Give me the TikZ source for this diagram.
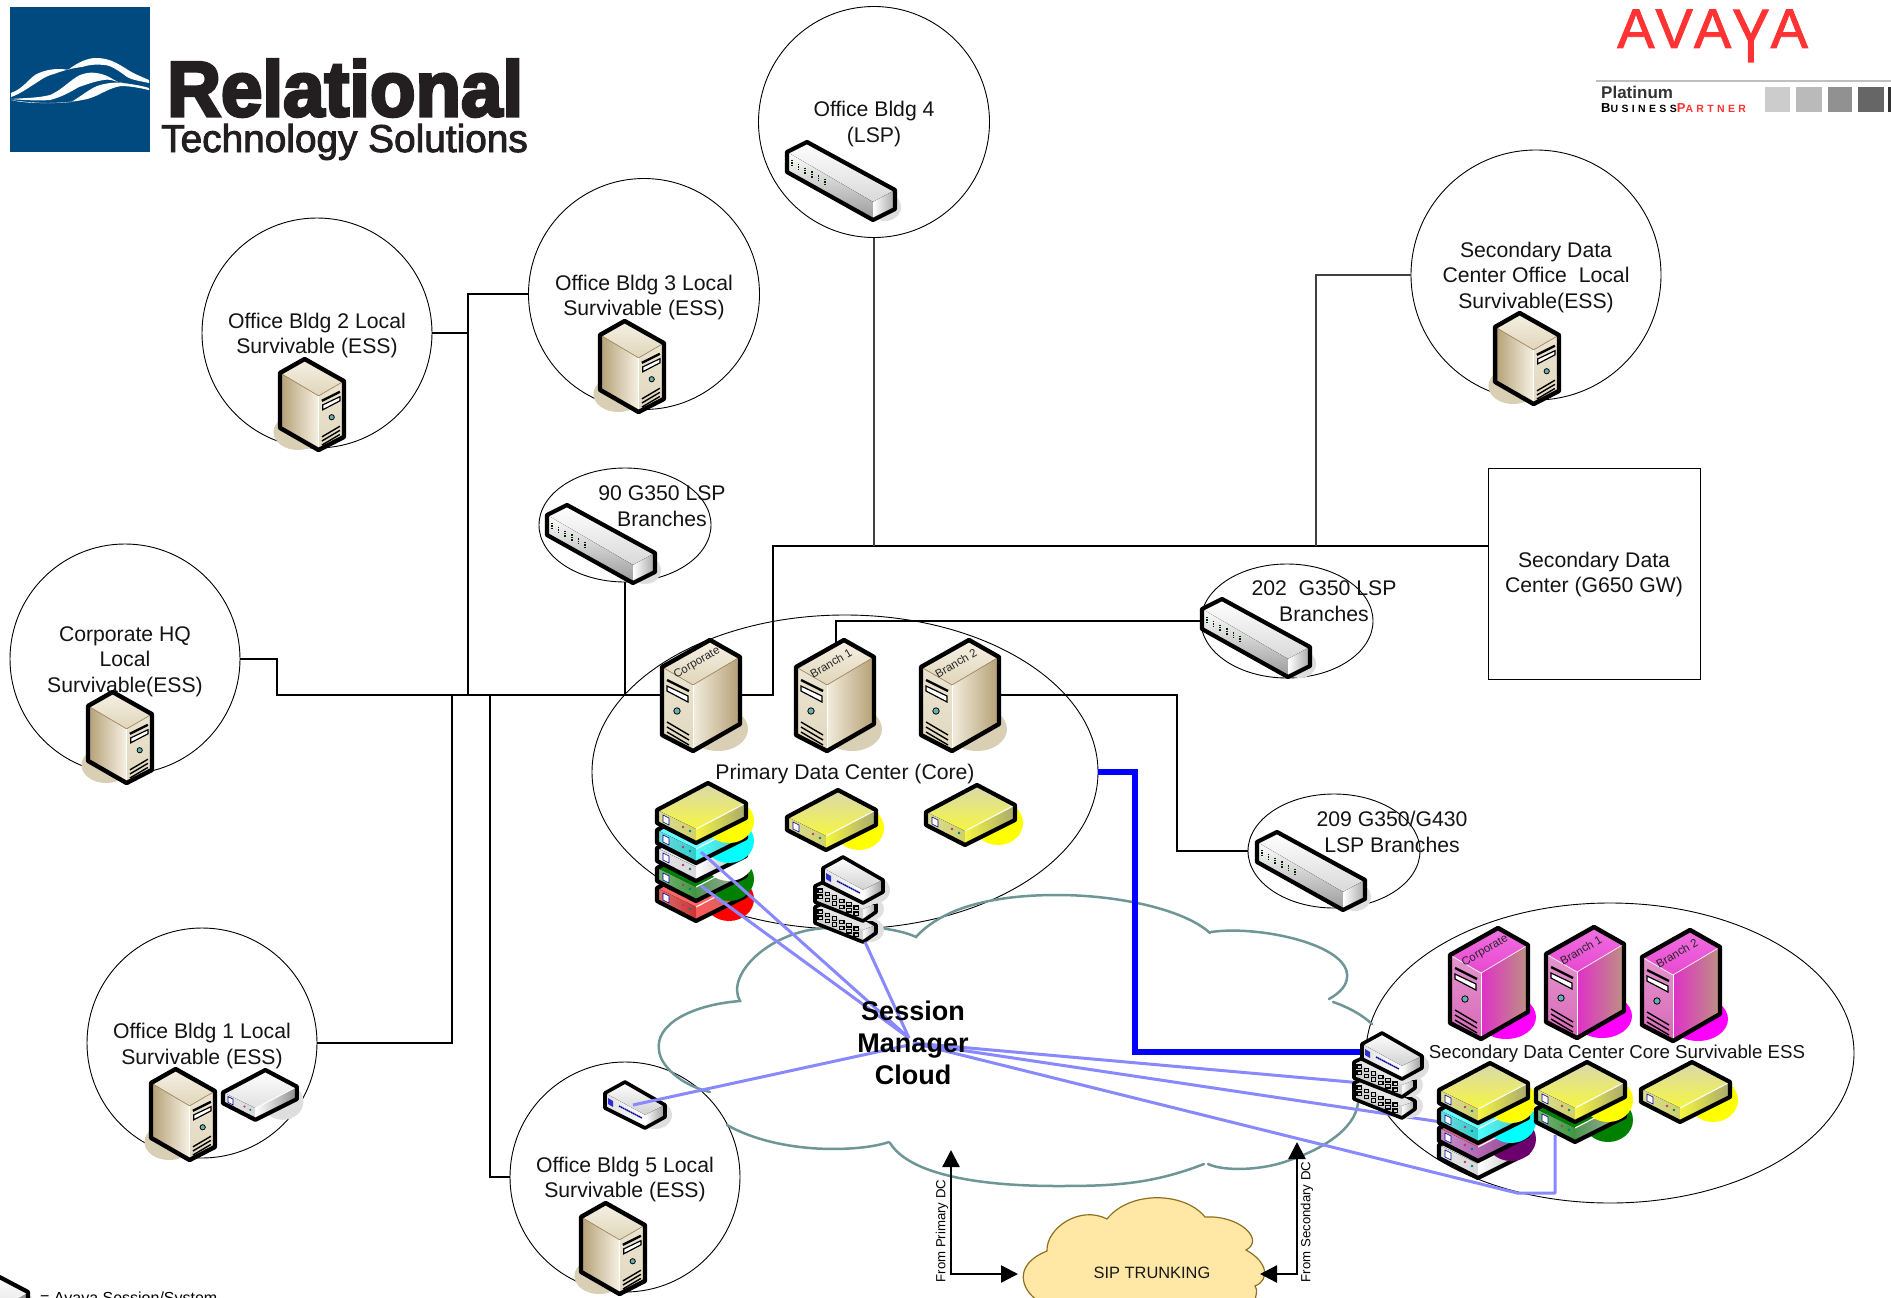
\documentclass[tikz,border=0pt]{standalone}
\usepackage{fontspec}
\usetikzlibrary{arrows.meta,shapes.geometric,calc}
\setmainfont{Liberation Sans}
\newfontfamily\rlogo[BoldFeatures={FakeBold=4}]{Liberation Sans}
\newfontfamily\tlogo[FakeBold=2.4]{Liberation Sans}
\newfontfamily\alogo[FakeBold=1.6]{Liberation Sans}
\newfontfamily\spacedfont[LetterSpace=32]{Liberation Sans}
\newcommand\lblfont{\fontsize{21.2}{25.5}\selectfont}
\definecolor{cloudline}{HTML}{6E9696}
\definecolor{sm}{HTML}{8888FF}
\definecolor{rblue}{HTML}{004A80}
\definecolor{rblack}{HTML}{231F20}
\definecolor{avred}{HTML}{FF3333}
\definecolor{aqua}{HTML}{00FFFF}
\definecolor{pureyellow}{HTML}{FFFF00}
\definecolor{pall}{HTML}{D8D8B0}
\definecolor{palb}{HTML}{F6F640}
\definecolor{pleft}{HTML}{CFCF6A}
\definecolor{prl}{HTML}{F5F540}
\definecolor{prr}{HTML}{A8A870}
\definecolor{sipfill}{HTML}{FFE7A6}
\definecolor{sipline}{HTML}{8F7020}
\newcommand\themetan{\definecolor{fF}{HTML}{E2D8BE}\definecolor{fT}{HTML}{F6F1E4}\definecolor{fTb}{HTML}{E0D5BA}\definecolor{fL}{HTML}{F2ECDC}\definecolor{fR}{HTML}{B49F74}\definecolor{fS}{HTML}{D9CFB5}\definecolor{fE}{HTML}{A88F68}}
\newcommand\themetanm{\themetan\definecolor{fL}{HTML}{B49F74}\definecolor{fR}{HTML}{F6F1E4}}
\newcommand\themepink{\definecolor{fF}{HTML}{D868B8}\definecolor{fT}{HTML}{F070E0}\definecolor{fTb}{HTML}{E848D0}\definecolor{fL}{HTML}{E030C8}\definecolor{fR}{HTML}{BC9280}\definecolor{fS}{HTML}{FF00FF}\definecolor{fE}{HTML}{FFFFFF}}
% server: origin at top-left of its bounding box, 78x111
\newcommand\srvicon[4]{\begin{scope}[shift={(#1,#2)},#3]
\fill[fS] (56,89) ellipse [x radius=30,y radius=22];
\fill[top color=fT,bottom color=fTb] (0,27)--(48,0)--(78,17)--(31,45)--cycle;
\fill[top color=fF!70!white,bottom color=fF] (0,27)--(31,45)--(31,111)--(0,95)--cycle;
\fill[left color=fL,right color=fR] (31,45)--(78,17)--(78,84)--(31,111)--cycle;
\draw[fE,line width=.7pt] (0,27)--(31,45)--(78,17);
\draw[white,line width=.9pt] (31,45)--(31,111);
\draw[black,line width=2.4pt] (5,40)--(27,51);
\fill[white,draw=black,line width=1.2pt] (5,46)--(26,56)--(26,62)--(5,51)--cycle;
\fill[teal!60!white,draw=black,line width=.8pt] (15,71) circle [radius=3.2];
\draw[black,line width=1.4pt] (5,82)--(27,95) (5,87)--(27,100) (5,92)--(27,105);
\draw[black,line width=4.4pt,line join=round] (0,27)--(48,0)--(78,17)--(78,84)--(31,111)--(0,95)--cycle;
\node[rotate=30,font=\fontsize{11.5}{12}\selectfont,text=black!85,inner sep=0pt] at (35,23) {#4};
\end{scope}}
% long switch
\newcommand\swicon[2]{\begin{scope}[shift={(#1,#2)}]
\fill[black!13] (98,65) ellipse [x radius=16,y radius=14];
\fill[top color=white,bottom color=black!15] (0,10)--(20,0)--(108,48)--(86,60)--cycle;
\fill[top color=white,bottom color=black!40] (0,10)--(86,60)--(86,78)--(0,30)--cycle;
\fill[left color=white,right color=black!35] (86,60)--(108,48)--(108,67)--(86,78)--cycle;
\foreach \i in {0,...,5}{\draw[black!85!green,line width=1.6pt,dash pattern=on 1.4pt off 1pt] ({5+6.6*\i},{18+3.8*\i})--++(0,7);}
\draw[black,line width=4.2pt,line join=round] (0,10)--(20,0)--(108,48)--(108,67)--(86,78)--(0,30)--cycle;
\end{scope}}
% flat box: #3 options, #4 top-top, #5 top-bottom, #6 left face, #7 right L, #8 right R, #9 shadow
\newcommand\flaticon[9]{\begin{scope}[shift={(#1,#2)},#3]
\colorlet{flatface}{#6}
\fill[#9] (72,38) ellipse [x radius=25,y radius=22];
\fill[top color=#4,bottom color=#5] (0,27)--(51,0)--(89,20)--(39,46)--cycle;
\fill[left color=flatface!70!white,right color=flatface] (0,27)--(39,46)--(39,60)--(0,40)--cycle;
\fill[left color=#7,right color=#8] (39,46)--(89,20)--(89,35)--(39,60)--cycle;
\draw[white,line width=1.1pt] (39,46)--(89,20);
\fill[white,draw=blue!60!black,line width=.6pt] (6,32)--(12,35)--(12,42)--(6,39)--cycle;
\fill[magenta!70!black] (26,44) circle [radius=1.4];
\fill[teal] (33,48) circle [radius=1.4];
\draw[black,line width=4.2pt,line join=round] (0,27)--(51,0)--(89,20)--(89,35)--(39,60)--(0,40)--cycle;
\end{scope}}
\newcommand\yellowbox[2]{\flaticon{#1}{#2}{}{pall}{palb}{pleft}{prl}{prr}{pureyellow}}
% session manager module
\newcommand\smtopicon[2]{\begin{scope}[shift={(#1,#2)}]
\fill[black!13] (50,33) ellipse [x radius=17,y radius=14];
\fill[top color=white,bottom color=black!18] (0,11)--(20,0)--(60,23)--(40,33)--cycle;
\fill[left color=black!12,right color=white] (0,11)--(40,33)--(40,46)--(0,26)--cycle;
\fill[left color=white,right color=black!40] (40,33)--(60,23)--(60,35)--(40,46)--cycle;
\fill[blue!65!gray] (3,16)--(8,19)--(8,25)--(3,22)--cycle;
\draw[blue!60!black,line width=1.5pt,dash pattern=on 1.6pt off .6pt] (14,24)--(37,36);
\draw[black,line width=3.6pt,line join=round] (0,11)--(20,0)--(60,23)--(60,35)--(40,46)--(0,26)--cycle;
\end{scope}}
\newcommand\smpanelicon[2]{\begin{scope}[shift={(#1,#2)}]
\fill[black!12] (55,30) ellipse [x radius=14,y radius=12];
\fill[white!90!black] (0,7)--(15,0)--(61,25)--(48,30)--cycle;
\fill[left color=white,right color=black!35] (48,30)--(61,25)--(61,33)--(48,42)--cycle;
\fill[black!18] (0,7)--(48,30)--(48,42)--(0,23)--cycle;
\foreach \i in {0,...,5}{
 \draw[black,line width=1.3pt] ({3+7.2*\i},{10+3.4*\i}) rectangle ++(4.4,3.4);
 \draw[black,line width=1.3pt] ({3+7.2*\i},{16+3.4*\i}) rectangle ++(4.4,3.4);}
\draw[black,line width=3.6pt,line join=round] (0,7)--(15,0)--(61,25)--(61,33)--(48,42)--(0,23)--cycle;
\end{scope}}
\newcommand\smstack[2]{\smpanelicon{\fpeval{#1-8}}{\fpeval{#2+43}}\smpanelicon{\fpeval{#1-8}}{\fpeval{#2+22}}\smtopicon{#1}{#2}}
\tikzset{x=1pt,y=-1pt,
 bub/.style={draw=black,line width=.9pt,circle,inner sep=0pt,minimum size=#1},
 ell/.style 2 args={draw=black,line width=.9pt,ellipse,inner sep=0pt,minimum width=#1,minimum height=#2},
 lbl/.style={inner sep=0pt,align=center,font=\lblfont,text=black!92},
 wire/.style={black,line width=2pt},
 thinwire/.style={black!75,line width=1.3pt},
 cloudarc/.style={cloudline,line width=2.5pt,line cap=round},
 smlink/.style={sm,line width=3pt,line join=round},
 bigtip/.style={{Triangle[length=17pt,width=17pt]}-{Triangle[length=17pt,width=17pt]},black,line width=2.4pt},
 rotlbl/.style={rotate=90,inner sep=0pt,font=\fontsize{13.2}{15}\selectfont},
 srvm/.style={xscale=-.82,yscale=.82}
}
\begin{document}
\begin{tikzpicture}
\path[use as bounding box] (0,0) rectangle (1891,1298);
\clip (0,0) rectangle (1891,1298);
\fill[white] (0,0) rectangle (1891,1298);
% logo Relational
\node[name=rsq,fill=rblue,inner sep=0pt,minimum width=140pt,minimum height=145pt] at (80,79.5) {};
\fill[white] (11,93) .. controls (25,88) and (30,76) .. (39,73) .. controls (48,69) and (60,68) .. (68,70) .. controls (78,62) and (88,58) .. (96,58) .. controls (110,58) and (118,64) .. (125,68) .. controls (132,73) and (142,77) .. (149,80) -- (149,83) .. controls (140,81) and (132,80) .. (127,77) .. controls (118,70) and (110,65) .. (104,65) .. controls (95,64) and (88,65) .. (82,67) .. controls (72,68) and (62,71) .. (54,74) .. controls (46,76) and (42,79) .. (36,83) .. controls (28,88) and (20,94) .. (11,97) -- cycle;
\fill[white] (11,99) .. controls (25,98) and (38,98) .. (50,95) .. controls (62,90) and (70,80) .. (80,75) .. controls (86,73) and (90,72) .. (96,73) .. controls (106,74) and (112,79) .. (118,82) .. controls (128,84) and (140,85) .. (149,88) -- (149,90) .. controls (140,87) and (130,84) .. (121,83) .. controls (113,80) and (108,79) .. (104,80) .. controls (96,81) and (88,84) .. (79,87) .. controls (70,92) and (62,97) .. (50,100) .. controls (38,101) and (22,100) .. (11,99) -- cycle;
\fill[white] (11,100) .. controls (30,103) and (55,104) .. (71,102) .. controls (82,96) and (90,88) .. (100,85) .. controls (108,83) and (115,82) .. (121,83) .. controls (130,84) and (140,86) .. (149,89) -- (149,90) .. controls (140,88) and (130,86) .. (121,86) .. controls (115,87) and (110,89) .. (104,92) .. controls (96,96) and (90,99) .. (82,100) .. controls (70,103) and (30,105) .. (11,100) -- cycle;
\node[name=relname,inner sep=0pt,anchor=base west,xscale=.955,text=rblack] at (167,116) {\fontsize{78}{80}\selectfont\rlogo\bfseries Relational};
\node[name=techname,inner sep=0pt,anchor=base west,text=rblack] at (161,152) {\fontsize{38.8}{39}\selectfont\tlogo Technology Solutions};
% logo Avaya
\node[name=avaya,inner sep=0pt,anchor=base west,text=avred] at (1617,48) {\fontsize{56}{57}\selectfont\alogo A\kern1pt V\kern1pt A\kern1pt\raisebox{-14pt}{\scalebox{1}[1.35]{Y}}\kern1pt A};
\fill[black!25] (1596,80) rectangle (1891,82);
\node[name=plat,inner sep=0pt,anchor=base west,text=black!80] at (1601,99) {\fontsize{17}{17}\selectfont\bfseries Platinum};
\node[name=bp,inner sep=0pt,anchor=base west] at (1601,112) {\fontsize{10.5}{11}\selectfont\bfseries\spacedfont {\fontsize{13}{11}\selectfont B}USINESS{\color{avred}{\fontsize{13}{11}\selectfont P}ARTNER}};
\fill[black!20] (1765,87) rectangle (1790,112);
\fill[black!27] (1796,87) rectangle (1822,112);
\fill[black!43] (1828,87) rectangle (1852,112);
\fill[black!60] (1858,87) rectangle (1884,112);
\fill[black!80] (1888,87) rectangle (1891,112);
% bubbles
\node[bub=231pt] (b4) at (874,122) {};
\node[lbl] (tb4) at (874,123.8) {Office Bldg 4\\(LSP)};
\node[bub=231pt] (b3) at (644,294) {};
\node[lbl] (tb3) at (644,297.5) {Office Bldg 3 Local\\Survivable (ESS)};
\node[bub=230pt] (b2) at (317,333) {};
\node[lbl] (tb2) at (317,335.4) {Office Bldg 2 Local\\Survivable (ESS)};
\node[bub=250pt] (soff) at (1536,275) {};
\node[lbl] (tsoff) at (1536,277.5) {Secondary Data\\Center Office~ Local\\Survivable(ESS)};
\node[bub=230pt] (hq) at (125,659) {};
\node[lbl] (thq) at (125,661.5) {Corporate HQ\\Local\\Survivable(ESS)};
\node[bub=230pt] (b1) at (202,1043) {};
\node[lbl] (tb1) at (202,1046) {Office Bldg 1 Local\\Survivable (ESS)};
\node[bub=230pt] (b5) at (625,1177) {};
\node[lbl] (tb5) at (625,1179.4) {Office Bldg 5 Local\\Survivable (ESS)};
\node[ell={172pt}{114pt}] (g90) at (625,525) {};
\node[ell={172pt}{114pt}] (g202) at (1287,621) {};
\node[ell={172pt}{114pt}] (g209) at (1334,851) {};
\node[ell={506pt}{314pt}] (pdc) at (845,772) {};
\node[ell={488pt}{300pt}] (sdc) at (1610,1053) {};
\node[draw=black,line width=.9pt,inner sep=0pt,minimum width=212pt,minimum height=211pt] (secdc) at (1594,573.5) {};
\node[lbl] (tsecdc) at (1594,574.7) {Secondary Data\\Center (G650 GW)};
% cloud
\draw[cloudarc] (880,928) .. controls (895,930) and (908,933) .. (916,937) .. controls (945,905) and (1000,895) .. (1057,895) .. controls (1120,895) and (1185,910) .. (1210,933);
\draw[cloudarc] (1211,932) .. controls (1260,925) and (1350,945) .. (1347,977) .. controls (1347,985) and (1340,993) .. (1329,999);
\draw[cloudarc] (1333,1002) .. controls (1345,1006) and (1360,1013) .. (1372,1024);
\draw[cloudarc] (1358,1103) .. controls (1355,1130) and (1320,1150) .. (1290,1160) .. controls (1265,1170) and (1225,1172) .. (1208,1164);
\draw[cloudarc] (1204,1164) .. controls (1150,1185) and (1110,1186) .. (1057,1186) .. controls (980,1186) and (910,1175) .. (890,1143);
\draw[cloudarc] (889,1142) .. controls (860,1152) and (780,1155) .. (727,1125);
\draw[cloudarc] (710,1092) .. controls (680,1085) and (660,1065) .. (659,1050) .. controls (655,1025) and (690,1005) .. (740,1001) .. controls (725,975) and (770,930) .. (827,928) .. controls (845,926) and (865,926) .. (880,928);
% SIP cloud
\draw[fill=sipfill,draw=sipline,line width=1.2pt] (1037,1300) .. controls (1022,1290) and (1012,1265) .. (1047,1251) .. controls (1046,1228) and (1080,1205) .. (1107,1219) .. controls (1130,1190) and (1185,1192) .. (1205,1217) .. controls (1240,1215) and (1265,1240) .. (1246,1250) .. controls (1268,1262) and (1270,1280) .. (1255,1286) .. controls (1258,1290) and (1256,1295) .. (1255,1300) -- cycle;
\node[name=sip,inner sep=0pt,font=\fontsize{16.4}{18}\selectfont,text=black!90] at (1152,1273) {SIP TRUNKING};
% wiring
\coordinate (bbw) at (277,695);
\coordinate (j452) at (452,695);
\coordinate (j468) at (468,695);
\coordinate (j490) at (490,695);
\coordinate (corpL) at (662,695);
\coordinate (corpR) at (740,695);
\coordinate (bbc) at (773,546);
\coordinate (j1316) at (1316,546);
\coordinate (br1t) at (836,645);
\coordinate (br2r) at (999,695);
\coordinate (k209) at (1177,851);
\coordinate (kblue) at (1135,1052);
\coordinate (smsec) at (1362,1052);
\draw[wire] (hq.east) -| (bbw) -- (corpL);
\draw[wire] (b2.east) -| (j468);
\draw[wire] (b3.west) -| (j468);
\draw[wire] (b1.east) -| (j452);
\draw[wire] (b5.west) -| (j490);
\draw[wire] (g90.south) -- (g90.south |- corpL);
\draw[wire] (corpR) -| (bbc) -- (bbc -| secdc.west);
\draw[thinwire] (b4.south) -- (b4.south |- bbc);
\draw[thinwire] (soff.west) -| (j1316);
\draw[wire] (br1t) |- (g202.west);
\draw[wire] (br2r) -| (k209) -- (g209.west);
% labels
\node[lbl] (l90) at (662,506) {90 G350 LSP\\Branches};
\node[lbl] (l202) at (1324,601) {202~ G350 LSP\\Branches};
\node[lbl] (l209) at (1392,832) {209 G350/G430\\LSP Branches};
\node[lbl] (lpdc) at (845,774.5) {Primary Data Center (Core)};
\node[inner sep=0pt,font=\fontsize{18.7}{20}\selectfont,text=black!92] (lsdc) at (1617,1053.5) {Secondary Data Center Core Survivable ESS};
% server icons
\themetan
\srvicon{662}{640}{}{Corporate}
\srvicon{796}{640}{}{Branch 1}
\srvicon{921}{640}{}{Branch 2}
\themetanm
\srvicon{664}{321}{srvm}{}
\srvicon{344}{359}{srvm}{}
\srvicon{1559}{313}{srvm}{}
\srvicon{152}{692}{srvm}{}
\srvicon{215}{1069}{srvm}{}
\srvicon{645}{1203}{srvm}{}
\themepink
\srvicon{1450}{928}{}{Corporate}
\srvicon{1546}{927}{}{Branch 1}
\srvicon{1642}{930}{}{Branch 2}
% switches
\swicon{787}{142}
\swicon{547}{505}
\swicon{1202}{599}
\swicon{1257}{832}
% primary flat boxes
\flaticon{657}{861}{}{red!60}{red!60}{red!60!gray}{red!65}{black!40!red!60!white}{red}
\flaticon{657}{841}{}{green!50!black}{green!50!black}{green!45!black!75!white}{green!40!black!70!white}{black!30!white}{green!50!black}
\flaticon{657}{821}{}{black!10}{black!10}{black!15}{white}{black!30}{white}
\flaticon{657}{803}{}{aqua!60}{aqua!60}{aqua!60!gray}{aqua!70!white}{black!35!aqua!70!white}{aqua}
\yellowbox{657}{783}
\yellowbox{787}{790}
\yellowbox{926}{785}
\smstack{823}{857}
\smtopicon{605}{1082}
\flaticon{223}{1070}{scale=.83}{white}{black!12}{black!15}{white}{black!45}{black!13}
\flaticon{-61}{1272}{}{white}{black!12}{black!15}{white}{black!45}{black!13}
% session manager links, primary side
\coordinate (hub) at (909,1038);
\coordinate (hub2) at (913,1043);
\coordinate (pcy) at (701,852);
\coordinate (pgr) at (701,886);
\coordinate (psm) at (865,942);
\coordinate (b5sm) at (633,1105);
\coordinate (hub3) at (909,1045);
\draw[smlink] (pcy) -- (hub);
\draw[smlink] (pgr) -- (hub);
\draw[smlink] (psm) -- (hub);
\draw[smlink] (b5sm) -- (hub3);
% session manager links, secondary side
\coordinate (sab) at (1362,1083);
\coordinate (scy) at (1441,1122);
\coordinate (skk) at (1517,1193);
\coordinate (skl) at (1555,1193);
\coordinate (sgr) at (1555,1135);
\draw[smlink] (hub2) -- (sab);
\draw[smlink] (hub2) -- (scy);
% blue trunk
\draw[blue,line width=6pt,line join=miter] (pdc.east) -| (kblue) -- (smsec);
% secondary icons
\smstack{1362}{1033}
\flaticon{1439}{1118}{}{black!10}{black!10}{black!15}{white}{black!30}{white}
\flaticon{1439}{1101}{}{purple!60}{purple!60}{violet!60!white}{violet!60}{black!35!violet!70!white}{violet!85!black}
\flaticon{1439}{1083}{}{aqua!60}{aqua!60}{aqua!60!gray}{aqua!70!white}{black!35!aqua!70!white}{aqua}
\yellowbox{1439}{1063}
\flaticon{1536}{1082}{}{green!50!black}{green!50!black}{green!45!black!75!white}{green!40!black!70!white}{black!30!white}{green!50!black}
\yellowbox{1536}{1062}
\yellowbox{1641}{1062}
\draw[smlink] (hub2) -- (skk) -- (skl) -- (sgr);
\node[inner sep=0pt,align=center,font=\fontsize{27}{32}\selectfont\bfseries] (smc) at (913,1043) {Session\\Manager\\Cloud};
% arrows to SIP
\coordinate (ap1) at (951,1150);
\coordinate (apk) at (951,1274);
\coordinate (ap2) at (1018,1274);
\coordinate (as1) at (1297,1142);
\coordinate (ask) at (1297,1274);
\coordinate (as2) at (1260,1274);
\draw[bigtip] (ap1) -- (apk) -- (ap2);
\draw[bigtip] (as1) -- (ask) -- (as2);
\node[rotlbl] (fp) at (942,1231) {From Primary DC};
\node[rotlbl] (fs) at (1307,1222) {From Secondary DC};
% legend
\node[inner sep=0pt,anchor=base west,font=\fontsize{16}{17}\selectfont] (leg) at (40,1303) {= Avaya Session/System};
\end{tikzpicture}
\end{document}
